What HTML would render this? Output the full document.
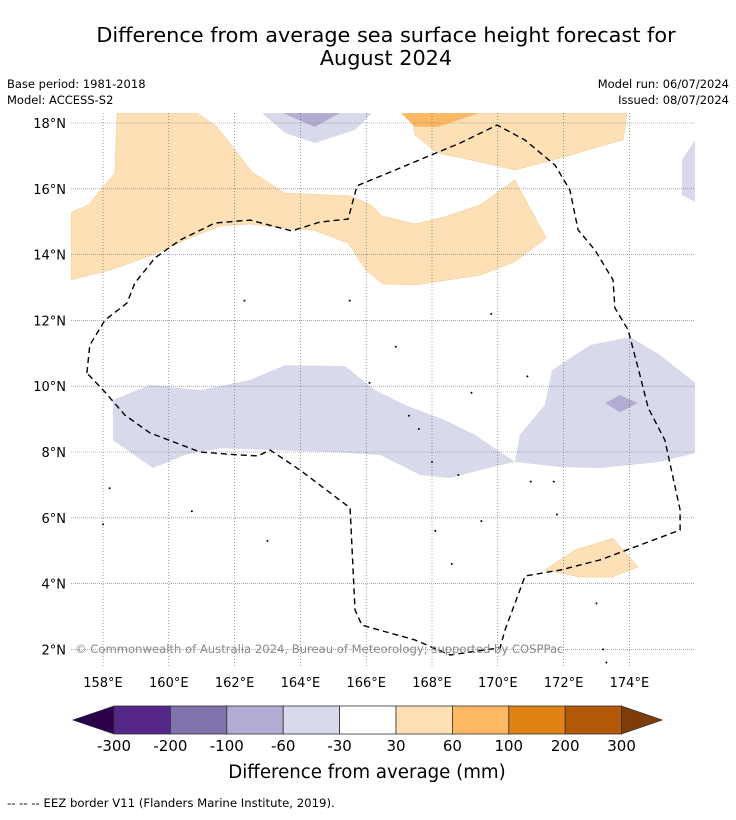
<!DOCTYPE html>
<html><head><meta charset="utf-8"><style>
html,body{margin:0;padding:0;background:#fff;}
body{width:736px;height:816px;position:relative;overflow:hidden;font-family:"DejaVu Sans",sans-serif;}
</style></head><body>
<svg id="chart" width="736" height="816" viewBox="0 0 736 816" xmlns="http://www.w3.org/2000/svg" font-family="DejaVu Sans, sans-serif">
<text x="386" y="42" font-size="20.8" text-anchor="middle">Difference from average sea surface height forecast for</text>
<text x="386" y="65" font-size="20.8" text-anchor="middle">August 2024</text>
<text x="7" y="88" font-size="11.5">Base period: 1981-2018</text>
<text x="7" y="104" font-size="11.5">Model: ACCESS-S2</text>
<text x="729" y="88" font-size="11.5" text-anchor="end">Model run: 06/07/2024</text>
<text x="729" y="104" font-size="11.5" text-anchor="end">Issued: 08/07/2024</text>
<defs><clipPath id="mapclip"><rect x="71" y="113" width="624" height="555"/></clipPath></defs>
<g id="contours" clip-path="url(#mapclip)"></g>
<g id="grid"></g>
<g id="eez" clip-path="url(#mapclip)"></g>
<g id="ticks"></g>
<text x="75" y="653" font-size="11.6" fill="#888">© Commonwealth of Australia 2024, Bureau of Meteorology; supported by COSPPac</text>
<g id="colorbar"></g>
<text x="367" y="778" font-size="18.2" text-anchor="middle">Difference from average (mm)</text>
<text x="7" y="807" font-size="11.7">--  --  -- EEZ border V11 (Flanders Marine Institute, 2019).</text>
</svg>
<script>
const lonTicks=[158,160,162,164,166,168,170,172,174];
const latTicks=[2,4,6,8,10,12,14,16,18];
const cbLevels=[-300,-200,-100,-60,-30,30,60,100,200,300];
const cbColors=["#542788","#8073ac","#b2abd2","#d8daeb","#ffffff","#fee0b6","#fdb863","#e08214","#b35806"];
const orangeLight1=[[157.03,15.29],[157.54,15.5],[158.36,16.48],[158.43,18.3],[160.86,18.3],[161.47,17.88],[162.53,16.51],[163.53,15.87],[165.51,15.78],[166.15,15.51],[166.48,15.17],[167.51,14.93],[168.46,15.17],[169.46,15.51],[170.52,16.27],[171.47,14.5],[170.52,13.78],[169.49,13.38],[167.51,13.08],[166.51,13.11],[165.99,13.53],[165.45,14.35],[164.38,14.75],[163.5,14.81],[162.47,14.93],[161.56,14.87],[160.49,14.44],[159.43,13.96],[158.21,13.53],[157.03,13.23]];
const orangeLight2=[[167.36,18.3],[167.48,17.64],[168.15,17.09],[169.16,16.88],[170.52,16.57],[172.04,16.97],[173.56,17.42],[173.81,17.48],[173.93,18.3]];
const orangeMid1=[[167.06,18.3],[167.48,17.88],[168.18,17.88],[169.43,18.3]];
const orangeLight3=[[171.43,4.41],[172.34,5.02],[173.5,5.38],[174.26,4.5],[173.47,4.2],[172.5,4.2]];
const purpleLight1=[[162.83,18.3],[163.53,17.7],[164.44,17.39],[165.66,17.79],[166.18,18.3]];
const purpleMid1=[[163.47,18.3],[164.44,17.88],[165.2,18.3]];
const purpleLight2=[[176,17.48],[175.6,16.88],[175.6,15.81],[176,15.6]];
const purpleLight3=[[158.3,9.58],[159.43,10.04],[160.95,9.88],[162.47,10.19],[163.53,10.64],[165.36,10.61],[166.27,9.88],[167.18,9.43],[168.4,8.97],[169.31,8.52],[170.52,7.7],[169.46,7.45],[168.55,7.21],[167.64,7.3],[166.42,7.91],[164.9,8.0],[163.08,8.06],[161.56,8.12],[160.49,7.91],[159.52,7.51],[158.3,8.36]];
const purpleLight4=[[170.52,7.7],[170.67,8.52],[171.43,9.43],[171.65,10.49],[172.8,11.25],[174.02,11.5],[174.93,10.95],[176,10.1],[176,7.97],[174.93,7.7],[173.11,7.51],[171.89,7.54]];
const purpleMid2=[[173.26,9.49],[173.71,9.73],[174.26,9.49],[173.71,9.21]];
const eezBorder=[[157.51,10.4],[157.6,11.25],[158.06,12.01],[158.73,12.53],[158.97,13.14],[159.58,13.9],[160.34,14.44],[161.4,14.96],[162.47,15.05],[163.74,14.72],[164.6,14.99],[165.45,15.08],[165.72,16.09],[166.88,16.57],[168.85,17.39],[169.98,17.94],[170.83,17.48],[171.74,16.72],[172.19,15.96],[172.44,14.75],[172.95,14.14],[173.5,13.23],[173.56,12.38],[173.96,11.71],[174.32,10.34],[174.57,9.34],[175.08,8.36],[175.54,6.24],[175.54,5.63],[174.32,5.17],[173.11,4.72],[171.89,4.41],[170.83,4.23],[170.22,2.59],[170.07,2.05],[169.16,1.92],[168.55,1.83],[167.48,2.29],[166.72,2.5],[165.87,2.74],[165.66,3.2],[165.51,6.3],[163.99,7.45],[163.08,8.06],[162.71,7.88],[162.16,7.91],[160.95,8.0],[159.43,8.58],[158.67,9.12],[158.06,9.82],[157.51,10.4]];
const islands=[[158.2,6.9],[158.0,5.8],[160.7,6.2],[163.0,5.3],[162.3,12.6],[165.5,12.6],[166.1,10.1],[166.9,11.2],[167.3,9.1],[168.1,5.6],[168.6,4.6],[169.5,5.9],[169.8,12.2],[170.9,10.3],[171.0,7.1],[171.7,7.1],[171.8,6.1],[173.0,3.4],[173.2,2.0],[173.3,1.6],[168.0,7.7],[168.8,7.3],[169.2,9.8],[167.6,8.7]];
const NS="http://www.w3.org/2000/svg";
function xS(lon){return 103+(lon-158)*32.9;}
function yS(lat){return 123+(18-lat)*32.9;}
function mk(tag,attrs,parent){const e=document.createElementNS(NS,tag);for(const k in attrs)e.setAttribute(k,attrs[k]);parent.appendChild(e);return e;}
function pts(a){return a.map(p=>xS(p[0]).toFixed(1)+","+yS(p[1]).toFixed(1)).join(" ");}
const cg=document.getElementById("contours");
const shapes=[[orangeLight1,"#fee0b6","orange-region-north"],[orangeLight2,"#fee0b6","orange-region-northeast"],[orangeMid1,"#fdb863","orange-core-northeast"],[orangeLight3,"#fee0b6","orange-region-south"],[purpleLight1,"#d8daeb","purple-region-north"],[purpleMid1,"#b2abd2","purple-core-north"],[purpleLight2,"#d8daeb","purple-region-east-edge"],[purpleLight3,"#d8daeb","purple-region-west"],[purpleLight4,"#d8daeb","purple-region-east"],[purpleMid2,"#b2abd2","purple-core-east"]];
shapes.forEach(s=>{
  const p=mk("polygon",{points:pts(s[0]),fill:s[1],stroke:s[1]==="#fee0b6"?"#f0c890":"none","stroke-width":0.5},cg);
  
  
});
const gg=document.getElementById("grid");
lonTicks.forEach(l=>{const e=mk("line",{x1:xS(l),x2:xS(l),y1:113,y2:668,stroke:"#555","stroke-width":0.6,"stroke-dasharray":"1,2"},gg);
  
  });
latTicks.forEach(l=>{const e=mk("line",{x1:71,x2:695,y1:yS(l),y2:yS(l),stroke:"#777","stroke-width":0.6,"stroke-dasharray":"1,1"},gg);
  
  });
const eg=document.getElementById("eez");
const eez=mk("polyline",{points:pts(eezBorder),fill:"none",stroke:"#000","stroke-width":1.4,"stroke-dasharray":"6,4"},eg);


islands.forEach(p=>{const e=mk("circle",{cx:xS(p[0]),cy:yS(p[1]),r:1,fill:"#000"},eg);
  
  });
const tg=document.getElementById("ticks");
lonTicks.forEach(l=>{const t=mk("text",{x:xS(l),y:687,"font-size":13,"text-anchor":"middle"},tg);t.textContent=l+"°E";
  
  });
latTicks.forEach(l=>{const t=mk("text",{x:66,y:yS(l)+5,"font-size":13,"text-anchor":"end"},tg);t.textContent=l+"°N";
  
  });
const cb=document.getElementById("colorbar");
const cbX0=114,cbW=56.4,cbY=706,cbH=28;
const lt=mk("polygon",{points:`${cbX0},${cbY} ${cbX0},${cbY+cbH} 73,${cbY+cbH/2}`,fill:"#2d004b",stroke:"#333","stroke-width":0.8},cb);


cbColors.forEach((c,i)=>{const r=mk("rect",{x:cbX0+i*cbW,y:cbY,width:cbW,height:cbH,fill:c,stroke:"#333","stroke-width":0.8},cb);
  
  });
const xe=cbX0+cbColors.length*cbW;
const rt=mk("polygon",{points:`${xe},${cbY} ${xe},${cbY+cbH} 662,${cbY+cbH/2}`,fill:"#7f3b08",stroke:"#333","stroke-width":0.8},cb);


cbLevels.forEach((v,i)=>{const t=mk("text",{x:cbX0+i*cbW,y:751,"font-size":15,"text-anchor":"middle"},cb);t.textContent=v;
  
  });
</script>
</body></html>
